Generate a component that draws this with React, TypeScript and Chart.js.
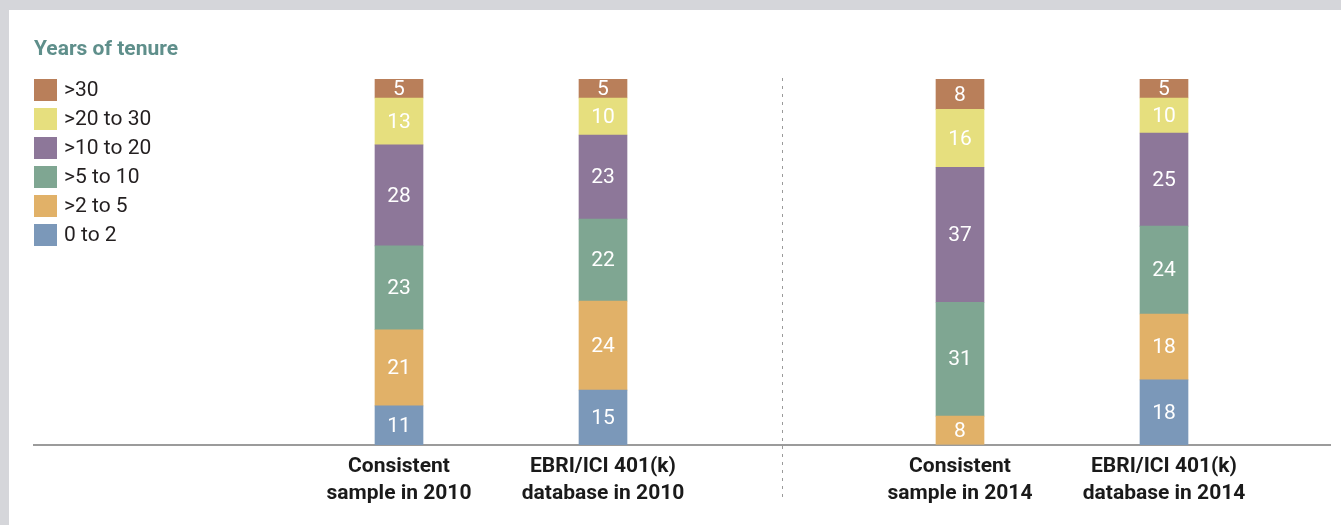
import React, { useEffect, useRef } from "react";
import { Chart, registerables } from "chart.js";

Chart.register(...registerables);

// ---- data ----
const categories: string[][] = [
  ["Consistent", "sample in 2010"],
  ["EBRI/ICI 401(k)", "database in 2010"],
  ["Consistent", "sample in 2014"],
  ["EBRI/ICI 401(k)", "database in 2014"],
];
const categoryPositions = [0, 4, 11, 15];
const tenureLabels = ["0 to 2", ">2 to 5", ">5 to 10", ">10 to 20", ">20 to 30", ">30"];
const tenureColors = ["#7b98b9", "#e1b168", "#7fa692", "#8d7799", "#e6df7e", "#b97f5a"];

const years0to2 = [10.7, 15.0, 0, 17.8];
const years2to5 = [20.8, 24.3, 7.9, 18.0];
const years5to10 = [22.9, 22.4, 31.1, 24.0];
const years10to20 = [27.6, 23.0, 36.9, 25.4];
const years20to30 = [12.8, 10.1, 15.8, 9.6];
const yearsOver30 = [5.2, 5.2, 8.2, 5.2];

const seriesValues = [years0to2, years2to5, years5to10, years10to20, years20to30, yearsOver30];

const chartTitle = "Years of tenure";

const FONT = '"Roboto", sans-serif';

const overlayPlugin = {
  id: "overlay",
  afterDatasetsDraw(chart: any) {
    const ctx = chart.ctx;
    ctx.save();
    // value labels
    ctx.fillStyle = "#ffffff";
    ctx.font = `21px ${FONT}`;
    ctx.textAlign = "center";
    ctx.textBaseline = "middle";
    chart.data.datasets.forEach((ds: any, i: number) => {
      const meta = chart.getDatasetMeta(i);
      meta.data.forEach((bar: any, j: number) => {
        const v = ds.data[j].y;
        if (!v || v <= 0) return;
        ctx.fillText(String(Math.round(v)), bar.x, (bar.y + bar.base) / 2 + 1);
      });
    });
    ctx.restore();
  },
  afterDraw(chart: any) {
    const ctx = chart.ctx;
    const area = chart.chartArea;
    const xs = chart.scales.x;
    ctx.save();
    // divider dashed line
    const dx = Math.round(xs.getPixelForValue((categoryPositions[1] + categoryPositions[2]) / 2)) + 0.5;
    ctx.strokeStyle = "#9a9a9a";
    ctx.lineWidth = 1;
    ctx.setLineDash([3, 5]);
    ctx.beginPath();
    ctx.moveTo(dx, area.top - 1);
    ctx.lineTo(dx, area.bottom + 52);
    ctx.stroke();
    ctx.setLineDash([]);

    // title
    ctx.fillStyle = "#5f8f8b";
    ctx.font = `bold 21px ${FONT}`;
    ctx.textAlign = "left";
    ctx.textBaseline = "alphabetic";
    ctx.fillText(chartTitle, area.left, 45);

    // legend (reverse order)
    const n = chart.data.datasets.length;
    ctx.font = `21px ${FONT}`;
    ctx.textBaseline = "middle";
    for (let k = 0; k < n; k++) {
      const ds = chart.data.datasets[n - 1 - k];
      const y = area.top + k * 29;
      ctx.fillStyle = ds.backgroundColor;
      ctx.fillRect(area.left, y, 23, 22);
      ctx.fillStyle = "#231f20";
      ctx.fillText(ds.label, area.left + 30, y + 12);
    }
    ctx.restore();
  },
};

export default function App() {
  const ref = useRef<HTMLCanvasElement | null>(null);

  useEffect(() => {
    document.body.style.margin = "0";
    const canvas = ref.current;
    if (!canvas) return;
    const datasets = seriesValues.map((vals, i) => ({
      label: tenureLabels[i],
      data: vals.map((v, j) => ({ x: categoryPositions[j], y: v })),
      backgroundColor: tenureColors[i],
      borderWidth: 0,
      barThickness: 48,
    }));
    const unit = 51;
    const areaWidth = 1296;
    const xMin = -(390 - 25) / unit;
    const xMax = xMin + areaWidth / unit;

    const chart = new Chart(canvas, {
      type: "bar",
      data: { datasets },
      options: {
        animation: false,
        responsive: false,
        devicePixelRatio: 1,
        layout: { padding: { left: 25, right: 11, top: 69, bottom: 0 } },
        plugins: { legend: { display: false }, tooltip: { enabled: false }, title: { display: false } },
        scales: {
          x: {
            type: "linear",
            stacked: true,
            offset: false,
            min: xMin,
            max: xMax,
            grid: { display: false, drawTicks: false },
            border: { display: true, color: "#9b9b9b", width: 2 },
            afterBuildTicks: (scale: any) => {
              scale.ticks = categoryPositions.map((v) => ({ value: v }));
            },
            afterFit: (scale: any) => {
              scale.height = 80;
            },
            ticks: {
              autoSkip: false,
              maxRotation: 0,
              minRotation: 0,
              padding: 8,
              color: "#1a1a1a",
              font: { family: FONT, size: 21, weight: "bold", lineHeight: 1.286 },
              callback: (_v: any, index: number) => categories[index],
            },
          },
          y: {
            display: false,
            stacked: true,
            min: 0,
            max: 100,
          },
        },
      },
      plugins: [overlayPlugin],
    } as any);
    return () => chart.destroy();
  }, []);

  return (
    <div style={{ position: "absolute", left: 0, top: 0, width: 1341, height: 525, background: "#d5d6da" }}>
      <div style={{ position: "absolute", left: 9, top: 10, width: 1332, height: 515, background: "#ffffff" }}>
        <canvas ref={ref} width={1332} height={515} style={{ display: "block", width: 1332, height: 515 }} />
      </div>
    </div>
  );
}
